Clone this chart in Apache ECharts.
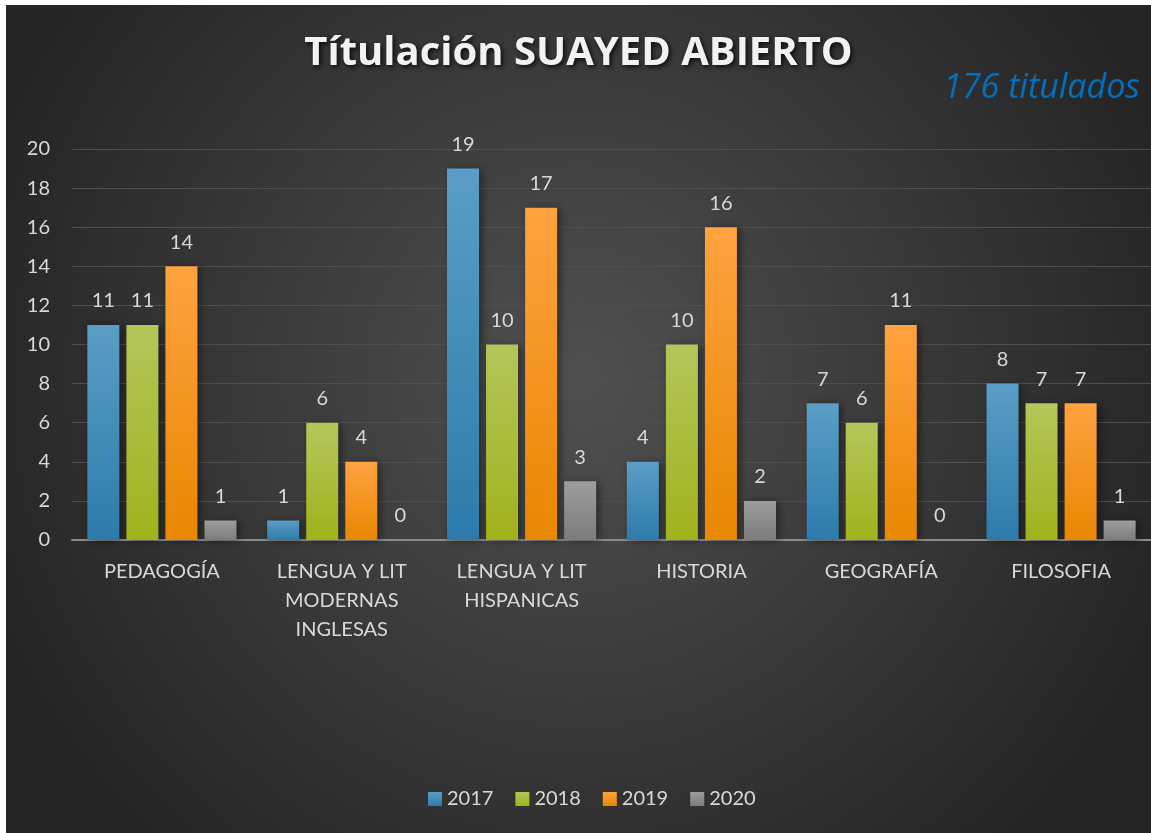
<!DOCTYPE html>
<html>
<head>
<meta charset="utf-8">
<script src="https://cdn.jsdelivr.net/npm/echarts@6/dist/echarts.min.js"></script>
<style>
  html, body { margin: 0; padding: 0; background: #fff; }
  #chart { position: absolute; left: 6px; top: 5px; width: 1145px; height: 828px; }
</style>
</head>
<body>
<div id="chart"></div>
<script>
// Datos
var categories = ['PEDAGOGÍA', 'LENGUA Y LIT\nMODERNAS\nINGLESAS', 'LENGUA Y LIT\nHISPANICAS', 'HISTORIA', 'GEOGRAFÍA', 'FILOSOFIA'];
var years = ['2017', '2018', '2019', '2020'];
var v2017 = [11, 1, 19, 4, 7, 8];
var v2018 = [11, 6, 10, 10, 6, 7];
var v2019 = [14, 4, 17, 16, 11, 7];
var v2020 = [1, 0, 3, 2, 0, 1];
var yTicks = [0, 20, 2];

var chart = echarts.init(document.getElementById('chart'));

var font = 'Lato, "Open Sans", sans-serif';
// colores: arriba / abajo
var colors = [
  ['#5b9dc6', '#2c7bab'],
  ['#b4c65a', '#a0b21b'],
  ['#ffa240', '#e88700'],
  ['#9d9d9d', '#7c7c7c']
];
var legendColors = ['#3a8bbd', '#a8bb2a', '#ff9410', '#8a8a8a'];

function grad(c) {
  return new echarts.graphic.LinearGradient(0, 0, 0, 1, [
    { offset: 0, color: c[0] },
    { offset: 1, color: c[1] }
  ]);
}

var allData = [v2017, v2018, v2019, v2020];
var series = [];
for (var i = 0; i < years.length; i++) {
  series.push({
    name: years[i],
    type: 'bar',
    data: allData[i],
    barWidth: 32,
    barGap: '22%',
    itemStyle: {
      color: grad(colors[i]),
      shadowBlur: 8,
      shadowColor: 'rgba(0,0,0,0.45)',
      shadowOffsetX: 3,
      shadowOffsetY: 1
    },
    label: {
      show: true,
      position: 'top',
      distance: 14,
      color: '#d9d9d9',
      fontSize: 20,
      fontFamily: font
    }
  });
}

var option = {
  backgroundColor: {
    type: 'radial', x: 0.5, y: 0.45, r: 0.75,
    colorStops: [
      { offset: 0, color: '#505050' },
      { offset: 1, color: '#252525' }
    ]
  },
  color: legendColors,
  title: [{
    text: 'Títulación SUAYED ABIERTO',
    left: 'center',
    top: 24,
    textStyle: {
      color: '#f2f2f2',
      fontSize: 40,
      fontWeight: 'bold',
      fontFamily: '"Open Sans", sans-serif',
      textShadowColor: 'rgba(0,0,0,0.8)',
      textShadowBlur: 5,
      textShadowOffsetX: 2,
      textShadowOffsetY: 2
    }
  }, {
    text: '176 titulados',
    right: 6,
    top: 61,
    textStyle: {
      color: '#0070c0',
      fontSize: 34,
      fontStyle: 'italic',
      fontWeight: 'normal',
      fontFamily: '"Open Sans", sans-serif'
    }
  }],
  legend: {
    data: years,
    bottom: 19,
    left: 417,
    itemWidth: 14,
    itemHeight: 14,
    itemGap: 22,
    icon: 'rect',
    textStyle: { color: '#d9d9d9', fontSize: 20, fontFamily: font }
  },
  grid: { left: 66, top: 144, width: 1081, height: 391, containLabel: false },
  xAxis: {
    type: 'category',
    data: categories,
    axisTick: { show: false },
    axisLine: { lineStyle: { color: '#8c8c8c', width: 2 } },
    axisLabel: {
      color: '#d9d9d9',
      fontSize: 20,
      fontFamily: font,
      margin: 17,
      lineHeight: 29,
      interval: 0
    }
  },
  yAxis: {
    type: 'value',
    min: yTicks[0],
    max: yTicks[1],
    interval: yTicks[2],
    axisLine: { show: false },
    axisTick: { show: false },
    splitLine: { lineStyle: { color: '#4f4f4f', width: 1 } },
    axisLabel: { color: '#d9d9d9', fontSize: 20, fontFamily: font, margin: 22 }
  },
  series: series
};

chart.setOption(option);
</script>
</body>
</html>
